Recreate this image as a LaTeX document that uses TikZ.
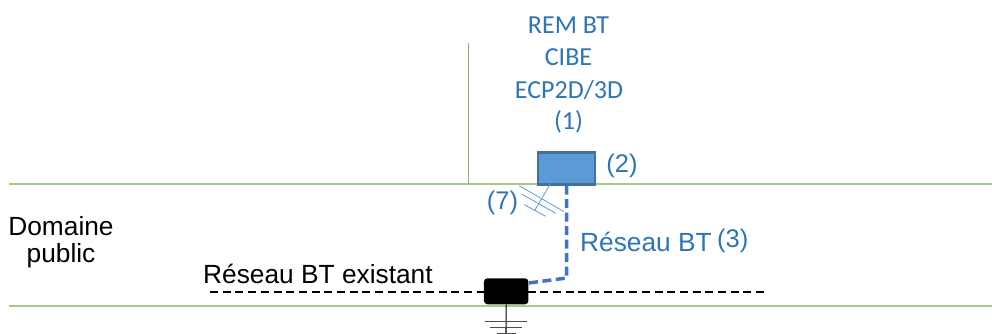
\documentclass[tikz,border=0pt]{standalone}
\usepackage{fontspec}
\setmainfont{Liberation Sans}
\newfontfamily\carl{Carlito}
\definecolor{bluetxt}{HTML}{2E75B6}
\definecolor{greenl}{HTML}{A9C98A}
\definecolor{greenv}{HTML}{8DB06A}
\definecolor{boxfill}{HTML}{5B9BD5}
\definecolor{boxdraw}{HTML}{41719C}
\definecolor{dashblue}{HTML}{4472C4}
\begin{document}
\begin{tikzpicture}[x=1pt,y=-1pt,
 toplabel/.style={font=\carl\fontsize{26}{26}\selectfont,text=bluetxt,inner sep=0pt,anchor=center},
 sidelabel/.style={font=\fontsize{25.5}{25.5}\selectfont,text=bluetxt,inner sep=0pt,anchor=center},
 arial/.style={font=\fontsize{26.3}{26.3}\selectfont,inner sep=0pt,anchor=center},
 greenline/.style={draw=greenl,line width=1.2pt},
 hatchline/.style={draw=boxfill,line width=0.8pt},
 groundbar/.style={draw=black!70,line width=1pt}]
\useasboundingbox (0,0) rectangle (992,334);
\coordinate (gl) at (9,184); \coordinate (gr) at (992,184);
\coordinate (hl) at (9,306); \coordinate (hr) at (992,306);
\coordinate (vt) at (468,43); \coordinate (vb) at (468,184);
\draw[greenline] (gl) -- (gr);
\draw[greenline] (hl) -- (hr);
\draw[draw=greenv,line width=1pt] (vt) -- (vb);
\coordinate (dl) at (210,292); \coordinate (dr) at (765,292);
\draw[black,line width=1.4pt,dash pattern=on 8pt off 4.7pt] (dl) -- (dr);
\node[toplabel] (t1) at (568.5,25) {REM BT};
\node[toplabel] (t2) at (568.5,57) {CIBE};
\node[toplabel] (t3) at (569,90) {ECP2D/3D};
\node[toplabel] (t4) at (568.5,122) {(1)};
\node[sidelabel] (t5) at (622,166) {(2)};
\node[sidelabel] (t7) at (502.5,203) {(7)};
\node[arial,text=bluetxt,anchor=west] (r) at (580,242) {Réseau BT};
\node[sidelabel,anchor=west] (r3) at (717,241) {(3)};
\node[arial] (d1) at (61,226) {Domaine};
\node[arial] (d2) at (61,256) {public};
\node[arial,anchor=west] (e) at (203,274) {Réseau BT existant};
\node[draw=boxdraw,fill=boxfill,line width=2.4pt,minimum width=57pt,minimum height=32pt,inner sep=0pt] (box) at (566.5,168.3) {};
\node[fill=black,rounded corners=3.5pt,minimum width=44.5pt,minimum height=26pt,inner sep=0pt] (joint) at (506.2,291.3) {};
\coordinate (bend) at (566.7,278);
\draw[dashblue,line width=3.5pt,dash pattern=on 9pt off 4.5pt] (box.south -| bend) -- (bend) -- (joint.east |- 0,283);
\coordinate (h1a) at (519.3,185.7); \coordinate (h1b) at (564,211.7);
\coordinate (h2a) at (521.7,194); \coordinate (h2b) at (555.7,213.3);
\coordinate (h3a) at (524.3,204.7); \coordinate (h3b) at (545.7,216.3);
\coordinate (ha) at (550.7,183.3); \coordinate (hb) at (535,210);
\draw[hatchline] (h1a) -- (h1b);
\draw[hatchline] (h2a) -- (h2b);
\draw[hatchline] (h3a) -- (h3b);
\draw[hatchline] (ha) -- (hb);
\coordinate (g0) at (506,334);
\draw[black,line width=1.1pt] (joint.south) -- (g0);
\coordinate (g1a) at (485,321.7); \coordinate (g1b) at (527,321.7);
\coordinate (g2a) at (490,327); \coordinate (g2b) at (522,327);
\coordinate (g3a) at (497,333); \coordinate (g3b) at (516,333);
\draw[groundbar] (g1a) -- (g1b);
\draw[groundbar] (g2a) -- (g2b);
\draw[groundbar] (g3a) -- (g3b);
\end{tikzpicture}
\end{document}
